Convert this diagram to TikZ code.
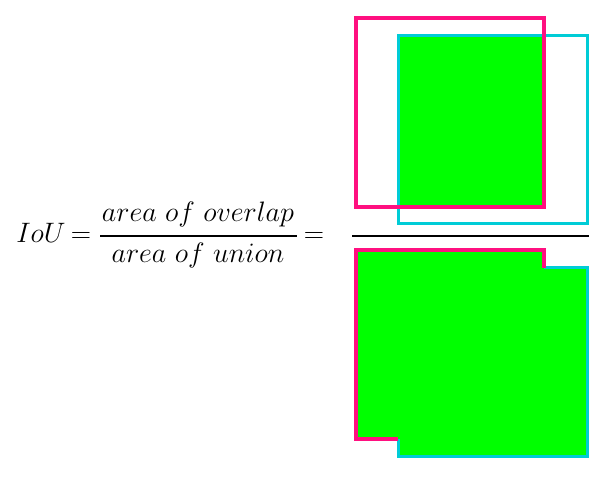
\documentclass[tikz,border=0pt]{standalone}
\usepackage{graphicx}
\usepackage{tikz}
\usetikzlibrary{positioning}
\definecolor{boxpink}{RGB}{255,16,128}
\definecolor{boxcyan}{RGB}{0,204,214}
\definecolor{areagreen}{RGB}{0,255,0}
\newcommand{\bigmath}[1]{\scalebox{1.13}{$#1$}}

\begin{document}
\begin{tikzpicture}[x=1pt,y=-1pt,
  eqtext/.style={inner sep=0pt, font=\fontsize{24.88}{30}\selectfont},
  pinkline/.style={draw=boxpink, line width=4pt},
  cyanline/.style={draw=boxcyan, line width=3pt},
  barline/.style={draw=black, line width=2pt}]
  \useasboundingbox (0,0) rectangle (610,478);
  % the equation
  \node[eqtext, anchor=base] (iou) at (41,243) {\bigmath{IoU}};
  \node[eqtext, anchor=base] (eqa) at (81,243) {\bigmath{=}};
  \node[eqtext, anchor=base] (num) at (198,222) {\bigmath{area\ of\ overlap}};
  \node[eqtext, anchor=base] (den) at (198,262) {\bigmath{area\ of\ union}};
  \node[eqtext, anchor=base] (eqb) at (314,243) {\bigmath{=}};
  \draw[barline] (100,236) -- (297,236);
  \draw[barline] (352,236) -- (589,236);
  % overlap (top)
  \fill[areagreen] (398,36) rectangle (544,207);
  \draw[cyanline] (398,36) rectangle (587,224);
  \draw[pinkline] (356,18) rectangle (544,207);
  % union (bottom)
  \begin{scope}[yshift=-232pt]
    \fill[areagreen] (356,18) -- (544,18) -- (544,36) -- (587,36) -- (587,224)
      -- (398,224) -- (398,207) -- (356,207) -- cycle;
    \draw[cyanline] (544,36) -- (587,36) -- (587,224) -- (398,224) -- (398,207);
    \draw[pinkline] (398,207) -- (356,207) -- (356,18) -- (544,18) -- (544,36);
  \end{scope}
\end{tikzpicture}
\end{document}
